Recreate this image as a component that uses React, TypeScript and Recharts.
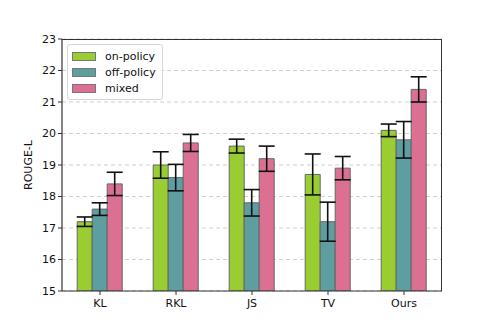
import { ComposedChart, Bar, XAxis, YAxis, CartesianGrid, ErrorBar } from "recharts";

const methods = ["KL", "RKL", "JS", "TV", "Ours"];
const onPolicy = [17.2, 19.0, 19.6, 18.7, 20.1];
const onPolicyErr = [0.15, 0.42, 0.22, 0.65, 0.2];
const offPolicy = [17.6, 18.6, 17.8, 17.2, 19.8];
const offPolicyErr = [0.2, 0.42, 0.42, 0.62, 0.58];
const mixed = [18.4, 19.7, 19.2, 18.9, 21.4];
const mixedErr = [0.37, 0.27, 0.4, 0.37, 0.4];
const yTicks = [15, 16, 17, 18, 19, 20, 21, 22, 23];

const series = [
  { key: "on", err: "onErr", name: "on-policy", color: "#9acd32" },
  { key: "off", err: "offErr", name: "off-policy", color: "#5f9ea0" },
  { key: "mixed", err: "mixedErr", name: "mixed", color: "#db7093" },
];

const data = methods.map((m, i) => ({
  method: m,
  on: onPolicy[i],
  onErr: onPolicyErr[i],
  off: offPolicy[i],
  offErr: offPolicyErr[i],
  mixed: mixed[i],
  mixedErr: mixedErr[i],
}));

const font = "'DejaVu Sans', sans-serif";
const axisColor = "#333";

function LegendBox() {
  return (
    <div
      style={{
        position: "absolute",
        left: 67,
        top: 44,
        border: "1px solid #d6d6d6",
        borderRadius: 3,
        background: "rgba(255,255,255,0.8)",
        padding: "3px 6px 3px 4px",
        fontFamily: font,
        fontSize: 11,
        color: "#111",
      }}
    >
      {series.map((s) => (
        <div key={s.key} style={{ display: "flex", alignItems: "center", height: 16 }}>
          <span
            style={{
              display: "inline-block",
              width: 22,
              height: 7,
              background: s.color,
              border: "1px solid #777",
              marginRight: 9,
            }}
          />
          {s.name}
        </div>
      ))}
    </div>
  );
}

export default function App() {
  return (
    <div style={{ position: "absolute", left: 0, top: 0, width: 491, height: 327, background: "#fff" }}>
      <ComposedChart
        width={491}
        height={327}
        data={data}
        margin={{ top: 39, right: 49, bottom: 14, left: 20 }}
        barCategoryGap="20%"
        barGap={0}
      >
        <CartesianGrid vertical={false} stroke="#d0d0d0" strokeDasharray="4 3" />
        <XAxis
          dataKey="method"
          axisLine={{ stroke: axisColor, strokeWidth: 1.2 }}
          tickLine={{ stroke: axisColor }}
          tickSize={4}
          tickMargin={4}
          height={22}
          tick={{ fontSize: 11, fill: "#111", fontFamily: font }}
        />
        <YAxis
          domain={[15, 23]}
          ticks={yTicks}
          allowDataOverflow
          width={42}
          axisLine={{ stroke: axisColor, strokeWidth: 1.2 }}
          tickLine={{ stroke: axisColor }}
          tickSize={4}
          tick={{ fontSize: 11, fill: "#111", fontFamily: font }}
          label={{ value: "ROUGE-L", angle: -90, position: "insideLeft", offset: 8, style: { fontSize: 11, fill: "#111", fontFamily: font, textAnchor: "middle" } }}
        />
        {series.map((s) => (
          <Bar
            key={s.key}
            dataKey={s.key}
            name={s.name}
            fill={s.color}
            stroke="#666"
            strokeWidth={1}
            isAnimationActive={false}
          >
            <ErrorBar dataKey={s.err} width={8} stroke="#111" strokeWidth={1.6} direction="y" />
          </Bar>
        ))}
      </ComposedChart>
      {/* top/right spines of the axes frame */}
      <div
        style={{
          position: "absolute",
          left: 62,
          top: 39,
          width: 380,
          height: 252,
          borderTop: `1.2px solid ${axisColor}`,
          borderRight: `1.2px solid ${axisColor}`,
          boxSizing: "border-box",
          pointerEvents: "none",
        }}
      />
      <LegendBox />
    </div>
  );
}
